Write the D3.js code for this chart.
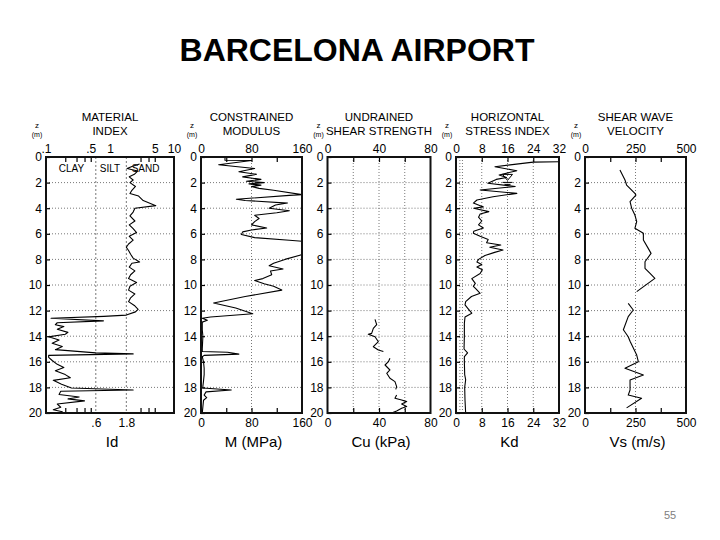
<!DOCTYPE html>
<html><head><meta charset="utf-8">
<script src="https://cdn.jsdelivr.net/npm/d3@7"></script>
<style>
body{margin:0;background:#fff}
svg text{font-family:"Liberation Sans",Arial,Helvetica,sans-serif}
</style>
</head><body>
<svg id="chart" width="720" height="540"></svg>
<script>
// ---------------- DATA ----------------
const chartTitle = "BARCELONA AIRPORT";
const pageNumber = "55";
const depthTicks = [0,2,4,6,8,10,12,14,16,18,20];
const panelHeaders = [["MATERIAL","INDEX"],["CONSTRAINED","MODULUS"],["UNDRAINED","SHEAR STRENGTH"],["HORIZONTAL","STRESS INDEX"],["SHEAR WAVE","VELOCITY"]];
const axisTitles = ["Id","M (MPa)","Cu (kPa)","Kd","Vs (m/s)"];
const soilLabels = ["CLAY","SILT","SAND"];
const soilLabelId = [0.25, 1.0, 3.6];

// Material index Id (log scale)
const idTopLabels = [0.1,0.5,1,5,10];
const idTopLabelText = [".1",".5","1","5","10"];
const idBottomLabels = [0.6,1.8];
const idBottomLabelText = [".6","1.8"];
const idMinorTicks = [0.2,0.3,0.4,0.5,3,4,5];
const idGrid = [0.6,1.8];
const idDepth = [0.55,0.75,0.9,1.1,1.35,1.55,1.8,2.0,2.3,2.6,2.85,3.05,3.4,3.8,4.0,4.3,4.6,5.0,5.3,5.6,5.9,6.2,6.5,6.8,7.05,7.3,7.6,7.9,8.2,8.3,8.6,8.9,9.2,9.5,9.8,10.1,10.4,10.7,11.0,11.3,11.6,11.9,12.1,12.35,12.45,12.6,12.8,12.95,13.1,13.25,13.45,13.7,13.85,14.05,14.3,14.55,14.8,15.05,15.3,15.38,15.5,15.65,15.9,16.2,16.45,16.7,17.0,17.25,17.45,17.75,18.05,18.2,18.3,18.55,18.75,18.9,19.05,19.3,19.55,19.75,19.9,20.0];
const idValue = [2.9,2.2,1.85,2.7,2.4,2.0,2.3,2.05,2.5,2.2,2.05,2.8,3.3,5.2,2.45,2.3,2.05,2.45,2.0,2.3,2.6,2.0,2.3,1.95,1.8,1.95,2.1,2.3,2.9,2.2,2.0,2.45,2.1,1.95,2.6,2.05,1.95,2.45,2.1,1.95,2.4,2.75,2.5,1.8,0.8,0.12,0.79,0.15,0.14,0.19,0.15,0.22,0.2,0.11,0.16,0.125,0.18,0.14,0.6,2.3,0.11,0.11,0.125,0.15,0.19,0.14,0.2,0.24,0.13,0.175,0.25,2.3,0.17,0.16,0.33,0.22,0.4,0.15,0.17,0.13,0.18,0.15];

// Constrained modulus M (MPa)
const mLabels = [0,80,160];
const mTicks = [40,80,120];
const mGrid = [80];
const mDepth = [0,0.25,0.27,0.6,0.9,1.15,1.35,1.55,1.75,1.9,2.0,2.1,2.2,2.3,2.45,2.6,2.95,3.0,3.3,3.4,3.6,3.75,4.0,4.2,4.35,4.55,4.8,5.05,5.3,5.55,5.7,5.85,6.05,6.3,6.5,6.65,7.55,7.65,8.0,8.3,8.5,8.75,8.9,9.2,9.5,9.65,9.9,10.1,10.4,10.9,11.4,11.8,12.25,12.5,12.6,12.75,12.9,13.5,14.0,14.5,15.0,15.2,15.25,15.4,15.5,15.6,16.0,16.5,17.0,17.5,17.9,18.05,18.2,18.35,18.6,18.8,19.0,19.5,20.0];
const mValue = [38,38,80,28,85,60,88,66,95,72,100,76,95,80,92,115,162,140,56,70,137,118,108,140,120,85,92,85,80,104,80,66,64,85,140,175,175,158,133,115,108,130,110,112,98,85,100,115,128,70,20,55,82,15,2,10,2,2,3,2.5,2,2,42,60,5,2,4,5,5,4,3,3,48,8,5,9,4,3,2];

// Undrained shear strength Cu (kPa); null separates segments
const cuLabels = [0,40,80];
const cuTicks = [20,40,60];
const cuGrid = [20,40,60];
const cuDepth = [12.68,13.1,13.39,13.78,13.85,14.04,14.43,14.82,15.08,15.2,null,15.73,15.99,16.25,16.64,16.9,17.29,17.55,17.94,18.15,null,18.59,18.85,18.98,19.11,19.3,19.5,19.63,19.84,20.0];
const cuValue = [36.9,38.2,35.6,34.3,31.7,36.9,39.5,35.6,39.5,43.4,null,48.5,47.3,44.7,48.5,46.0,48.5,52.4,53.7,53.0,null,53.7,52.4,57.6,61.5,57.6,61.5,57.6,53.7,49.8];

// Horizontal stress index Kd
const kdLabels = [0,8,16,24,32];
const kdTicks = [8,16,24];
const kdGrid = [1.2,2,8,16,24];
const kdDepth = [0.36,0.4,0.76,1.07,1.4,1.6,1.75,2.05,2.3,2.58,2.84,3.1,3.36,3.6,3.9,4.0,4.27,4.45,4.7,5.0,5.3,5.55,5.8,5.96,6.2,6.45,6.7,6.88,7.05,7.27,7.45,7.7,8.0,8.2,8.4,8.6,8.8,9.1,9.5,9.87,10.1,10.3,10.65,10.9,11.3,11.55,11.8,12.2,12.5,13.0,14.0,15.0,15.3,15.6,16.0,17.0,17.4,18.0,19.0,20.0];
const kdValue = [34,24,12.1,18.9,13.4,15.7,12.5,9.9,18.4,7.5,18.9,11.5,6.5,5.4,8.5,5.5,10.2,7.5,7.0,8.0,7.0,8.5,5.5,5.4,7.5,10.0,9.5,13.9,10.5,14.6,12.0,9.0,7.0,6.5,8.0,6.5,8.2,7.5,4.9,6.0,5.4,6.2,7.5,4.8,3.0,2.8,3.6,4.9,2.8,2.6,2.6,2.5,3.6,2.6,2.6,2.7,3.0,2.7,2.8,3.0];
const waterTableKd = 16;
const waterTableDepth = 1.75;

// Shear wave velocity Vs (m/s); null separates segments
const vsLabels = [0,250,500];
const vsTicks = [125,250,375];
const vsGrid = [250];
const vsDepth = [1.02,1.8,2.19,2.84,2.97,3.49,4.0,4.53,5.05,5.57,5.96,6.48,7.14,7.53,8.18,8.7,9.09,9.48,10.52,null,11.43,11.95,12.47,13.5,14.04,14.4,15.47,15.99,16.5,17.03,17.42,18.2,18.6,18.85,19.6];
const vsValue = [173,198,206,247,252,223,231,247,256,247,289,289,313,327,297,297,322,346,256,null,214,239,214,190,214,223,256,264,198,289,223,223,214,280,206];

// ---------------- DRAWING ----------------
const svg = d3.select("#chart");
const yTop = 157, yBottom = 413;
const y = d3.scaleLinear().domain([0,20]).range([yTop,yBottom]);

svg.append("text").attr("x",357).attr("y",61).attr("text-anchor","middle")
  .style("font-size","32px").style("font-weight","bold").text(chartTitle);
svg.append("text").attr("x",670).attr("y",519).attr("text-anchor","middle")
  .style("font-size","11px").attr("fill","#808080").text(pageNumber);

const panels = [
  {x: d3.scaleLog().domain([0.1,10]).range([46,174]), depth:idDepth, value:idValue,
   topLabels:idTopLabels, topText:idTopLabelText, botLabels:idBottomLabels, botText:idBottomLabelText,
   ticks:idMinorTicks, grid:idGrid, gridDash:"2,2"},
  {x: d3.scaleLinear().domain([0,160]).range([201,302]), depth:mDepth, value:mValue,
   topLabels:mLabels, botLabels:mLabels, ticks:mTicks, grid:mGrid, gridDash:"1,2"},
  {x: d3.scaleLinear().domain([0,80]).range([327.5,430.5]), depth:cuDepth, value:cuValue,
   topLabels:cuLabels, botLabels:cuLabels, ticks:cuTicks, grid:cuGrid, gridDash:"1,2"},
  {x: d3.scaleLinear().domain([0,32]).range([456,559]), depth:kdDepth, value:kdValue,
   topLabels:kdLabels, botLabels:kdLabels, ticks:kdTicks, grid:kdGrid, gridDash:"1,2"},
  {x: d3.scaleLinear().domain([0,500]).range([585,686]), depth:vsDepth, value:vsValue,
   topLabels:vsLabels, botLabels:vsLabels, ticks:vsTicks, grid:vsGrid, gridDash:"1,2"}
];

panels.forEach((p,i)=>{
  const g = svg.append("g");
  const [x0,x1] = p.x.range();
  const cx = (x0+x1)/2;
  const clipId = "clip"+i;
  svg.append("clipPath").attr("id",clipId).append("rect")
    .attr("x",x0).attr("y",yTop).attr("width",x1-x0).attr("height",yBottom-yTop);

  // header
  panelHeaders[i].forEach((t,k)=>{
    g.append("text").attr("x",cx).attr("y",121+k*14).attr("text-anchor","middle")
      .style("font-size","11.5px").text(t);
  });
  // z (m)
  g.append("text").attr("x",x0-9).attr("y",128).attr("text-anchor","middle").style("font-size","8px").text("z");
  g.append("text").attr("x",x0-9).attr("y",137).attr("text-anchor","middle").style("font-size","7px").text("(m)");

  // horizontal grid
  g.append("g").selectAll("line").data(depthTicks.filter(d=>d>0&&d<20)).join("line")
    .attr("x1",x0).attr("x2",x1).attr("y1",d=>y(d)).attr("y2",d=>y(d))
    .attr("stroke","#555").attr("stroke-width",0.8).attr("stroke-dasharray","1,2");
  // vertical grid
  g.append("g").selectAll("line").data(p.grid).join("line")
    .attr("x1",d=>p.x(d)).attr("x2",d=>p.x(d)).attr("y1",yTop).attr("y2",yBottom)
    .attr("stroke","#555").attr("stroke-width",0.8).attr("stroke-dasharray",p.gridDash);

  // axes: tick marks
  const styleAxis = sel => { sel.select(".domain").remove(); sel.selectAll("text").style("font-size","12px").attr("fill","#000"); sel.selectAll("line").attr("stroke","#000").attr("stroke-width",1.2); };
  g.append("g").attr("transform",`translate(0,${yTop})`)
    .call(d3.axisTop(p.x).tickValues(p.ticks).tickSize(-5).tickFormat("")).call(styleAxis);
  g.append("g").attr("transform",`translate(0,${yBottom})`)
    .call(d3.axisBottom(p.x).tickValues(p.ticks).tickSize(-5).tickFormat("")).call(styleAxis);
  // axis labels
  const topFmt = p.topText ? (d=>p.topText[p.topLabels.indexOf(d)]) : d3.format("d");
  const botFmt = p.botText ? (d=>p.botText[p.botLabels.indexOf(d)]) : d3.format("d");
  g.append("g").attr("transform",`translate(0,${yTop})`)
    .call(d3.axisTop(p.x).tickValues(p.topLabels).tickSize(0).tickPadding(4).tickFormat(topFmt)).call(styleAxis);
  g.append("g").attr("transform",`translate(0,${yBottom})`)
    .call(d3.axisBottom(p.x).tickValues(p.botLabels).tickSize(0).tickPadding(5).tickFormat(botFmt)).call(styleAxis);
  g.append("g").attr("transform",`translate(${x0},0)`)
    .call(d3.axisLeft(y).tickValues(depthTicks).tickSizeInner(-4).tickSizeOuter(0).tickPadding(4).tickFormat(d3.format("d"))).call(styleAxis);

  // axis title
  g.append("text").attr("x",cx+2).attr("y",447).attr("text-anchor","middle").style("font-size","15px").text(axisTitles[i]);

  // data line
  const pts = p.depth.map((d,k)=>({z:d,v:p.value[k]}));
  const line = d3.line().defined(d=>d.z!==null && d.v!==null).x(d=>p.x(d.v)).y(d=>y(d.z));
  g.append("path").datum(pts).attr("clip-path",`url(#${clipId})`)
    .attr("d",line).attr("fill","none").attr("stroke","#000").attr("stroke-width",1.1).attr("stroke-linejoin","round");

  // frame
  g.append("rect").attr("x",x0).attr("y",yTop).attr("width",x1-x0).attr("height",yBottom-yTop)
    .attr("fill","none").attr("stroke","#111").attr("stroke-width",2);
});

// soil type labels in the material index panel
const px0 = panels[0].x;
svg.append("g").selectAll("text").data(soilLabels).join("text")
  .attr("x",(d,k)=>px0(soilLabelId[k])).attr("y",172).attr("text-anchor","middle")
  .style("font-size","10px").text(d=>d);

// water table symbol in Kd panel
const pk = panels[3].x;
const wx = pk(waterTableKd), wy = y(waterTableDepth);
svg.append("path").attr("d",`M${wx-5},${wy-5}L${wx+5},${wy-5}L${wx},${wy+1}Z`)
  .attr("fill","none").attr("stroke","#000").attr("stroke-width",1);
svg.append("line").attr("x1",wx-5).attr("x2",wx+5).attr("y1",wy+3).attr("y2",wy+3).attr("stroke","#000");
svg.append("line").attr("x1",wx-3).attr("x2",wx+3).attr("y1",wy+5).attr("y2",wy+5).attr("stroke","#000");
</script>
</body></html>
